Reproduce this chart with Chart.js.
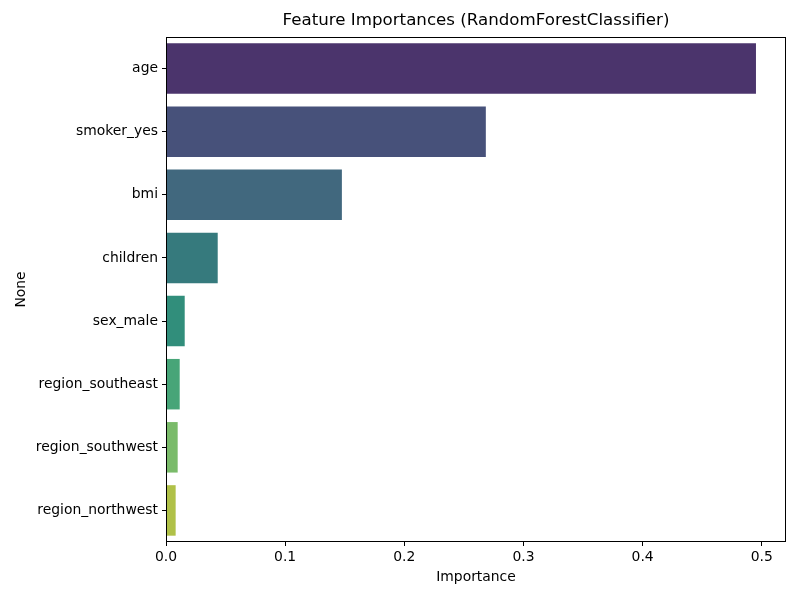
<!DOCTYPE html>
<html>
<head>
<meta charset="utf-8">
<script src="https://cdn.jsdelivr.net/npm/chart.js@4.4.0/dist/chart.umd.min.js"></script>
<style>
  html, body { margin: 0; padding: 0; background: #fff; }
  #wrap { width: 800px; height: 600px; }
</style>
</head>
<body>
<div id="wrap"><canvas id="myChart" width="800" height="600"></canvas></div>
<script>
var features = ['age', 'smoker_yes', 'bmi', 'children', 'sex_male', 'region_southeast', 'region_southwest', 'region_northwest'];
var importances = [0.4951, 0.2684, 0.1476, 0.0434, 0.0157, 0.0115, 0.0098, 0.0081];
var barColors = ['#4b346c', '#47517a', '#41687e', '#367a7d', '#318e7b', '#47a578', '#7abb6a', '#b0c148'];
var xTicks = [0, 0.1, 0.2, 0.3, 0.4, 0.5];
var chartTitle = 'Feature Importances (RandomForestClassifier)';

Chart.defaults.font.family = 'DejaVu Sans';
Chart.defaults.color = '#000';

// matplotlib-style box round the plot area, title centred over the axes
var frame = {
    id: 'frame',
    afterDraw: function (chart) {
        var a = chart.chartArea, c = chart.ctx;
        c.save();
        c.strokeStyle = '#000';
        c.lineWidth = 1;
        c.strokeRect(a.left + 0.5, a.top + 0.5, a.right - a.left - 1, a.bottom - a.top - 1);
        c.fillStyle = '#000';
        c.font = '16.67px "DejaVu Sans"';
        c.textAlign = 'center';
        c.textBaseline = 'middle';
        c.fillText(chartTitle, (a.left + a.right) / 2, 21);
        c.restore();
    }
};

var ctx = document.getElementById('myChart').getContext('2d');
var myChart = new Chart(ctx, {
    type: 'bar',
    data: {
        labels: features,
        datasets: [{
            data: importances,
            backgroundColor: barColors,
            borderWidth: 0,
            barPercentage: 0.8,
            categoryPercentage: 1.0
        }]
    },
    options: {
        indexAxis: 'y',
        responsive: false,
        animation: false,
        devicePixelRatio: 1,
        layout: { padding: { left: 0, right: 14, top: 37, bottom: 0 } },
        plugins: {
            legend: { display: false },
            tooltip: { enabled: false },
            title: { display: false }
        },
        scales: {
            x: {
                min: 0,
                max: 0.5203,
                afterBuildTicks: function (scale) {
                    scale.ticks = xTicks.map(function (v) { return { value: v }; });
                },
                afterFit: function (scale) { scale.height = 58; },
                ticks: {
                    font: { size: 13.9 },
                    padding: 3,
                    callback: function (v) { return v.toFixed(1); }
                },
                grid: { drawOnChartArea: false, drawTicks: true, tickLength: 4, color: '#000' },
                border: { display: false },
                title: { display: true, text: 'Importance', font: { size: 13.9 }, padding: { top: 0, bottom: 14 } }
            },
            y: {
                afterFit: function (scale) { scale.width = 166; },
                ticks: { font: { size: 13.9 }, padding: 4 },
                grid: { offset: false, drawOnChartArea: false, drawTicks: true, tickLength: 4, color: '#000' },
                border: { display: false },
                title: { display: true, text: 'None', font: { size: 13.9 }, padding: { top: 13, bottom: 0 } }
            }
        }
    },
    plugins: [frame]
});
</script>
</body>
</html>
